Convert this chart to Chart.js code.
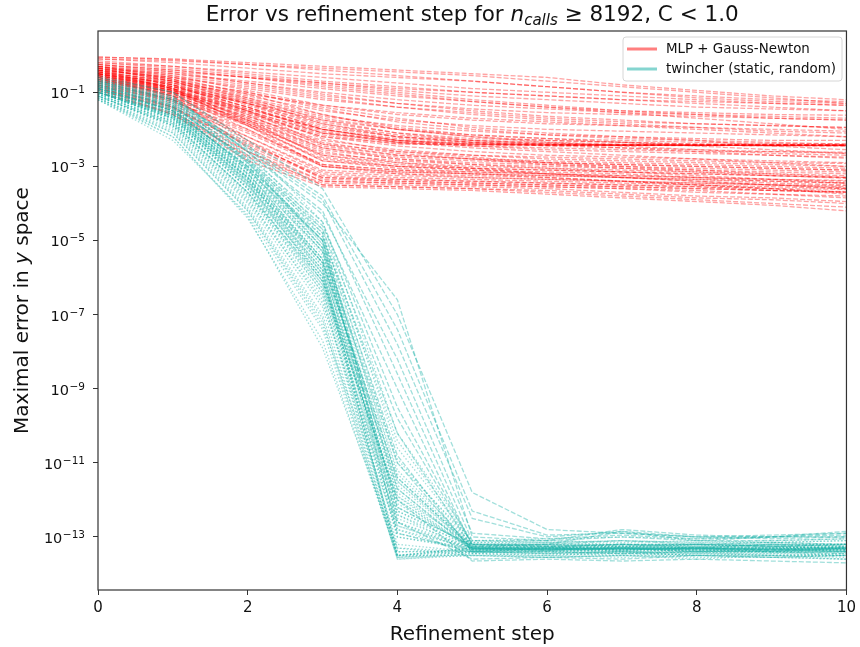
<!DOCTYPE html>
<html>
<head>
<meta charset="utf-8">
<script src="https://cdn.jsdelivr.net/npm/chart.js@4.4.1/dist/chart.umd.min.js"></script>
<style>
  html, body { margin: 0; padding: 0; background: #fff; }
</style>
</head>
<body>
<canvas id="chart" width="860" height="647"></canvas>
<script>
// Refinement steps (x axis)
const steps = [0, 1, 2, 3, 4, 5, 6, 7, 8, 9, 10];
const xTicks = [0, 2, 4, 6, 8, 10];
// y tick exponents (log10 of error)
const yTickExps = [-1, -3, -5, -7, -9, -11, -13];

// MLP + Gauss-Newton runs, log10(max error) per step
const mlpRuns = [
  [-0.05,-0.1,-0.2,-0.3,-0.4,-0.5,-0.6,-0.8,-0.95,-1.1,-1.2],
  [-0.1,-0.15,-0.25,-0.35,-0.45,-0.55,-0.7,-0.85,-1.0,-1.15,-1.3],
  [-0.2,-0.3,-0.45,-0.6,-0.75,-0.9,-1.0,-1.1,-1.2,-1.3,-1.35],
  [-0.3,-0.45,-0.6,-0.75,-0.9,-1.0,-1.1,-1.2,-1.3,-1.4,-1.5],
  [-0.25,-0.4,-0.6,-0.8,-1.0,-1.2,-1.35,-1.5,-1.6,-1.7,-1.75],
  [-0.35,-0.55,-0.8,-1.1,-1.3,-1.45,-1.55,-1.6,-1.65,-1.7,-1.75],
  [-0.4,-0.6,-0.9,-1.2,-1.4,-1.55,-1.7,-1.8,-1.85,-1.9,-1.95],
  [-0.3,-0.55,-0.95,-1.35,-1.6,-1.75,-1.85,-1.9,-1.95,-2.0,-2.05],
  [-0.45,-0.7,-1.1,-1.5,-1.75,-1.9,-2.0,-2.05,-2.1,-2.15,-2.2],
  [-0.5,-0.8,-1.2,-1.65,-1.9,-2.05,-2.15,-2.2,-2.25,-2.3,-2.3],
  [-0.35,-0.7,-1.25,-1.8,-2.1,-2.25,-2.3,-2.35,-2.4,-2.4,-2.43],
  [-0.4,-0.75,-1.35,-1.95,-2.2,-2.3,-2.35,-2.4,-2.42,-2.43,-2.43],
  [-0.55,-0.9,-1.45,-2.0,-2.25,-2.35,-2.4,-2.42,-2.43,-2.43,-2.44],
  [-0.3,-0.65,-1.2,-1.85,-2.2,-2.35,-2.4,-2.42,-2.43,-2.44,-2.44],
  [-0.6,-0.95,-1.5,-2.1,-2.3,-2.38,-2.42,-2.43,-2.43,-2.43,-2.43],
  [-0.45,-0.8,-1.3,-1.9,-2.2,-2.35,-2.45,-2.5,-2.55,-2.6,-2.65],
  [-0.5,-0.85,-1.4,-2.0,-2.3,-2.45,-2.55,-2.6,-2.65,-2.7,-2.75],
  [-0.65,-1.0,-1.6,-2.2,-2.45,-2.6,-2.7,-2.75,-2.8,-2.85,-2.9],
  [-0.7,-1.05,-1.65,-2.3,-2.55,-2.7,-2.8,-2.85,-2.9,-2.95,-3.0],
  [-0.4,-0.8,-1.5,-2.4,-2.7,-2.8,-2.85,-2.9,-2.95,-3.0,-3.05],
  [-0.55,-0.95,-1.7,-2.5,-2.75,-2.85,-2.9,-2.95,-3.0,-3.05,-3.1],
  [-0.75,-1.1,-1.75,-2.55,-2.8,-2.9,-2.95,-3.0,-3.05,-3.1,-3.15],
  [-0.6,-1.0,-1.8,-2.7,-2.9,-3.0,-3.05,-3.1,-3.15,-3.2,-3.25],
  [-0.8,-1.2,-1.9,-2.8,-3.0,-3.05,-3.1,-3.15,-3.2,-3.25,-3.3],
  [-0.5,-0.95,-1.85,-2.85,-3.0,-3.1,-3.15,-3.2,-3.3,-3.35,-3.4],
  [-0.85,-1.25,-2.0,-2.95,-3.1,-3.15,-3.2,-3.25,-3.3,-3.4,-3.45],
  [-0.65,-1.1,-2.0,-3.0,-3.15,-3.2,-3.25,-3.3,-3.35,-3.45,-3.5],
  [-0.9,-1.35,-2.2,-3.1,-3.2,-3.25,-3.3,-3.4,-3.45,-3.5,-3.55],
  [-0.7,-1.2,-2.3,-3.2,-3.3,-3.35,-3.4,-3.45,-3.5,-3.55,-3.6],
  [-0.95,-1.4,-2.45,-3.3,-3.35,-3.4,-3.45,-3.5,-3.55,-3.65,-3.7],
  [-0.6,-1.1,-2.5,-3.4,-3.45,-3.5,-3.55,-3.6,-3.7,-3.75,-3.8],
  [-1.0,-1.6,-2.7,-3.45,-3.5,-3.55,-3.6,-3.7,-3.8,-3.85,-3.95],
  [-0.8,-1.4,-2.6,-3.5,-3.55,-3.6,-3.7,-3.8,-3.9,-4.0,-4.1],
  [-0.9,-1.6,-2.85,-3.55,-3.6,-3.65,-3.75,-3.85,-3.95,-4.05,-4.2],
  [-0.35,-0.5,-0.7,-0.9,-1.1,-1.25,-1.4,-1.55,-1.7,-1.85,-2.0],
  [-0.2,-0.35,-0.55,-0.75,-0.95,-1.1,-1.2,-1.3,-1.4,-1.45,-1.5],
  [-0.5,-0.75,-1.05,-1.35,-1.55,-1.7,-1.8,-1.9,-2.0,-2.1,-2.2],
  [-0.45,-0.7,-1.0,-1.4,-1.7,-1.95,-2.1,-2.2,-2.3,-2.45,-2.55],
  [-0.6,-0.9,-1.3,-1.75,-2.0,-2.15,-2.25,-2.35,-2.45,-2.55,-2.65],
  [-0.3,-0.6,-1.05,-1.6,-2.0,-2.2,-2.3,-2.35,-2.4,-2.42,-2.43],
  [-0.7,-1.0,-1.5,-2.1,-2.35,-2.5,-2.6,-2.7,-2.8,-2.9,-3.0],
  [-0.55,-0.9,-1.5,-2.25,-2.6,-2.75,-2.9,-3.0,-3.1,-3.2,-3.3],
  [-0.75,-1.15,-1.8,-2.6,-2.9,-3.05,-3.2,-3.3,-3.4,-3.5,-3.6],
  [-0.4,-0.9,-1.9,-3.0,-3.2,-3.3,-3.35,-3.4,-3.5,-3.6,-3.7],
  [-0.15,-0.3,-0.5,-0.7,-0.85,-1.0,-1.1,-1.2,-1.25,-1.3,-1.35],
  [-0.65,-1.0,-1.55,-2.15,-2.4,-2.42,-2.43,-2.43,-2.43,-2.43,-2.43],
  [-0.5,-0.85,-1.4,-2.05,-2.35,-2.4,-2.42,-2.43,-2.43,-2.42,-2.43],
  [-0.85,-1.2,-1.85,-2.65,-2.85,-2.95,-3.05,-3.15,-3.25,-3.35,-3.45],
  [-0.25,-0.45,-0.75,-1.05,-1.3,-1.5,-1.65,-1.75,-1.85,-1.9,-1.95],
  [-0.4,-0.65,-1.0,-1.45,-1.8,-2.0,-2.15,-2.25,-2.3,-2.35,-2.4],
  [-0.55,-0.85,-1.3,-1.85,-2.15,-2.3,-2.38,-2.42,-2.43,-2.44,-2.45],
  [-0.35,-0.7,-1.3,-2.0,-2.3,-2.4,-2.42,-2.43,-2.43,-2.43,-2.43],
  [-0.6,-0.95,-1.55,-2.2,-2.38,-2.42,-2.43,-2.43,-2.44,-2.43,-2.43],
  [-0.45,-0.8,-1.4,-2.1,-2.35,-2.45,-2.5,-2.55,-2.6,-2.6,-2.62],
  [-0.7,-1.05,-1.7,-2.4,-2.6,-2.7,-2.75,-2.8,-2.85,-2.9,-2.92],
  [-0.5,-0.9,-1.6,-2.45,-2.7,-2.8,-2.9,-2.95,-3.0,-3.05,-3.1],
  [-0.8,-1.15,-1.85,-2.7,-2.95,-3.05,-3.1,-3.15,-3.2,-3.25,-3.3],
  [-0.65,-1.05,-1.9,-2.85,-3.05,-3.15,-3.2,-3.25,-3.3,-3.35,-3.38],
  [-0.9,-1.3,-2.1,-3.0,-3.15,-3.2,-3.25,-3.3,-3.35,-3.4,-3.45],
  [-0.75,-1.2,-2.2,-3.15,-3.25,-3.3,-3.35,-3.4,-3.45,-3.5,-3.52],
  [-0.95,-1.45,-2.4,-3.25,-3.35,-3.4,-3.45,-3.5,-3.55,-3.6,-3.62],
  [-0.55,-1.0,-2.3,-3.35,-3.4,-3.45,-3.5,-3.55,-3.6,-3.65,-3.68],
  [-1.0,-1.55,-2.6,-3.4,-3.45,-3.5,-3.55,-3.6,-3.65,-3.75,-3.85],
  [-0.85,-1.5,-2.75,-3.5,-3.55,-3.6,-3.65,-3.75,-3.85,-3.9,-4.0],
  [-0.3,-0.5,-0.75,-1.0,-1.2,-1.35,-1.45,-1.55,-1.6,-1.65,-1.7],
  [-0.1,-0.2,-0.35,-0.5,-0.6,-0.7,-0.85,-1.0,-1.1,-1.2,-1.25],
  [-0.05,-0.12,-0.25,-0.4,-0.55,-0.7,-0.85,-1.0,-1.15,-1.25,-1.3],
  [-0.4,-0.6,-0.85,-1.15,-1.4,-1.6,-1.75,-1.85,-1.95,-2.05,-2.1],
  [-0.5,-0.75,-1.15,-1.6,-1.95,-2.15,-2.25,-2.3,-2.35,-2.38,-2.4],
  [-0.65,-0.95,-1.45,-2.0,-2.3,-2.4,-2.43,-2.43,-2.43,-2.44,-2.44],
  [-0.35,-0.65,-1.15,-1.75,-2.1,-2.3,-2.4,-2.5,-2.6,-2.7,-2.78],
  [-0.6,-1.0,-1.65,-2.35,-2.65,-2.8,-2.95,-3.05,-3.15,-3.25,-3.32],
  [-0.7,-1.1,-1.75,-2.5,-2.8,-2.95,-3.0,-3.05,-3.1,-3.15,-3.2],
  [-0.45,-0.9,-1.75,-2.75,-3.0,-3.1,-3.2,-3.3,-3.4,-3.5,-3.58],
  [-0.8,-1.25,-2.05,-2.95,-3.1,-3.2,-3.3,-3.4,-3.5,-3.6,-3.75],
  [-0.9,-1.4,-2.35,-3.3,-3.4,-3.45,-3.5,-3.55,-3.6,-3.65,-3.7],
  [-0.25,-0.4,-0.6,-0.85,-1.05,-1.25,-1.4,-1.5,-1.55,-1.6,-1.62],
  [-0.55,-0.85,-1.25,-1.7,-2.0,-2.2,-2.35,-2.45,-2.55,-2.65,-2.7]
];

// twincher (static, random) runs drawn dotted, log10(max error) per step
const twincherDotted = [
  [-1.0,-1.7,-3.6,-6.0,-13.5,-13.3,-13.35,-13.3,-13.35,-13.3,-13.4],
  [-0.9,-1.5,-3.3,-5.6,-12.8,-13.3,-13.25,-13.3,-13.2,-13.25,-13.3],
  [-1.1,-1.9,-3.9,-6.5,-13.55,-13.4,-13.45,-13.4,-13.5,-13.45,-13.5],
  [-0.8,-1.4,-3.1,-5.3,-12.2,-13.25,-13.2,-13.25,-13.3,-13.2,-13.25],
  [-1.2,-2.1,-4.2,-7.2,-13.6,-13.45,-13.5,-13.4,-13.5,-13.55,-13.5],
  [-0.95,-1.6,-3.4,-5.8,-11.8,-13.3,-13.3,-13.35,-13.3,-13.3,-13.35],
  [-0.7,-1.2,-2.9,-5.0,-11.5,-13.2,-13.15,-13.2,-13.2,-13.15,-13.2],
  [-1.05,-1.8,-3.7,-6.2,-13.0,-13.35,-13.4,-13.35,-13.4,-13.4,-13.35],
  [-1.15,-2.2,-4.4,-7.7,-13.5,-13.5,-13.55,-13.5,-13.6,-13.5,-13.55],
  [-0.85,-1.45,-3.2,-5.5,-12.5,-13.3,-13.3,-13.25,-13.3,-13.35,-13.3],
  [-1.0,-1.75,-3.5,-5.9,-13.4,-13.35,-13.3,-13.35,-13.3,-13.4,-13.35],
  [-0.75,-1.35,-3.0,-5.2,-11.2,-13.2,-13.25,-13.2,-13.25,-13.2,-13.2],
  [-1.1,-1.95,-4.0,-6.8,-13.55,-13.45,-13.4,-13.45,-13.4,-13.5,-13.45],
  [-0.9,-1.55,-3.35,-5.7,-12.0,-13.3,-13.35,-13.3,-13.35,-13.3,-13.3],
  [-0.6,-1.1,-2.7,-4.8,-11.0,-13.1,-13.15,-13.1,-13.15,-13.1,-13.05],
  [-1.0,-1.65,-3.45,-6.1,-12.7,-13.35,-13.3,-13.3,-13.25,-13.3,-13.35],
  [-1.15,-2.0,-4.1,-7.0,-13.5,-13.4,-13.45,-13.5,-13.45,-13.5,-13.5],
  [-0.8,-1.4,-3.1,-5.4,-11.6,-13.25,-13.3,-13.25,-13.2,-13.25,-13.3],
  [-0.95,-1.6,-3.4,-5.9,-13.0,-13.3,-13.35,-13.3,-13.4,-13.35,-13.3],
  [-1.05,-1.85,-3.8,-6.4,-13.4,-13.4,-13.35,-13.4,-13.35,-13.4,-13.45],
  [-0.7,-1.25,-2.8,-5.1,-12.3,-13.2,-13.2,-13.25,-13.2,-13.2,-13.25],
  [-1.2,-2.3,-4.3,-7.4,-13.55,-13.5,-13.5,-13.55,-13.5,-13.5,-13.6],
  [-0.85,-1.5,-3.25,-5.6,-12.6,-13.3,-13.3,-13.3,-13.35,-13.3,-13.3],
  [-1.0,-1.7,-3.55,-6.0,-12.9,-13.35,-13.35,-13.4,-13.35,-13.35,-13.4],
  [-0.9,-1.5,-3.3,-5.7,-13.5,-13.3,-13.3,-13.35,-13.3,-13.35,-13.3],
  [-0.65,-1.15,-2.6,-4.7,-10.6,-13.15,-13.1,-13.15,-13.1,-13.15,-13.1],
  [-1.1,-1.9,-3.95,-6.6,-13.2,-13.4,-13.45,-13.4,-13.45,-13.4,-13.5],
  [-0.8,-1.4,-3.05,-5.3,-12.4,-13.25,-13.25,-13.2,-13.25,-13.3,-13.25],
  [-0.95,-1.65,-3.5,-5.8,-13.5,-13.35,-13.3,-13.35,-13.3,-13.35,-13.35],
  [-1.05,-1.8,-3.75,-6.3,-13.3,-13.4,-13.4,-13.45,-13.4,-13.4,-13.4],
  [-0.75,-1.3,-2.95,-5.0,-11.9,-13.2,-13.25,-13.2,-13.2,-13.25,-13.2],
  [-0.55,-1.0,-2.4,-4.5,-10.2,-13.1,-13.05,-13.0,-13.05,-13.0,-13.0],
  [-1.15,-2.05,-4.15,-7.1,-13.6,-13.5,-13.55,-13.5,-13.5,-13.55,-13.6],
  [-0.9,-1.55,-3.3,-5.9,-12.3,-13.3,-13.3,-13.3,-13.3,-13.35,-13.3],
  [-1.0,-1.7,-3.6,-6.3,-11.9,-13.35,-13.4,-13.35,-13.35,-13.4,-13.4],
  [-0.8,-1.4,-3.15,-5.6,-11.4,-13.25,-13.25,-13.3,-13.25,-13.25,-13.3],
  [-1.1,-1.9,-3.85,-6.7,-12.6,-13.4,-13.45,-13.4,-13.45,-13.45,-13.4],
  [-0.7,-1.25,-2.85,-5.2,-10.9,-13.2,-13.2,-13.2,-13.25,-13.2,-13.2],
  [-0.95,-1.6,-3.45,-6.0,-12.1,-13.3,-13.35,-13.3,-13.35,-13.3,-13.35],
  [-1.05,-1.8,-3.7,-6.4,-12.4,-13.4,-13.35,-13.4,-13.4,-13.35,-13.4],
  [-0.85,-1.45,-3.2,-5.5,-11.7,-13.3,-13.3,-13.25,-13.3,-13.3,-13.25],
  [-1.15,-2.1,-4.2,-7.3,-12.8,-13.45,-13.5,-13.45,-13.5,-13.5,-13.5],
  [-0.75,-1.3,-2.9,-5.1,-11.3,-13.25,-13.2,-13.25,-13.2,-13.25,-13.2],
  [-1.0,-1.75,-3.6,-6.2,-12.0,-13.35,-13.3,-13.35,-13.3,-13.35,-13.35],
  [-0.9,-1.5,-3.35,-5.8,-12.7,-13.3,-13.35,-13.3,-13.3,-13.3,-13.3],
  [-1.2,-2.2,-4.35,-7.9,-13.3,-13.5,-13.55,-13.5,-13.55,-13.55,-13.6],
  [-0.65,-1.2,-2.75,-4.9,-10.4,-13.15,-13.15,-13.1,-13.15,-13.15,-13.1],
  [-0.95,-1.65,-3.5,-6.1,-11.5,-13.3,-13.3,-13.35,-13.3,-13.3,-13.3]
];

// twincher runs drawn dashed (the slower ones)
const twincherDashed = [
  [-0.6,-1.0,-2.3,-3.6,-7.0,-11.8,-12.8,-12.9,-13.0,-13.0,-12.9],
  [-0.7,-1.15,-2.5,-3.9,-7.8,-12.5,-13.0,-12.85,-13.0,-13.05,-13.0],
  [-0.65,-1.1,-2.6,-4.2,-8.6,-13.1,-13.1,-13.0,-13.1,-13.1,-13.05],
  [-0.8,-1.3,-2.7,-4.5,-9.5,-13.2,-13.2,-13.1,-13.2,-13.15,-13.2],
  [-0.9,-1.5,-3.0,-4.9,-10.2,-13.3,-13.25,-13.3,-13.3,-13.2,-13.25],
  [-0.75,-1.25,-2.55,-4.0,-6.6,-13.0,-13.1,-12.8,-12.95,-13.0,-12.95],
  [-0.85,-1.4,-2.8,-4.6,-9.0,-13.25,-13.3,-13.2,-13.3,-13.25,-13.3],
  [-1.0,-1.6,-3.2,-5.3,-11.0,-13.35,-13.35,-13.3,-13.35,-13.4,-13.3],
  [-0.7,-1.2,-2.45,-3.8,-7.4,-12.3,-12.95,-12.9,-13.0,-12.95,-12.9],
  [-0.95,-1.55,-3.1,-5.0,-10.8,-13.4,-13.3,-13.35,-13.3,-13.35,-13.3],
  [-1.1,-1.85,-3.7,-6.1,-12.0,-13.65,-13.6,-13.65,-13.6,-13.65,-13.7],
  [-0.8,-1.35,-2.9,-4.8,-12.6,-13.6,-13.55,-13.6,-13.5,-13.55,-13.5],
  [-0.9,-1.45,-3.05,-5.2,-12.2,-13.25,-13.2,-12.85,-13.1,-13.0,-12.85],
  [-1.0,-1.7,-3.4,-5.6,-11.4,-13.3,-13.35,-13.3,-13.3,-13.35,-13.4],
  [-0.75,-1.2,-2.6,-4.3,-8.2,-12.9,-13.05,-12.95,-13.05,-13.0,-13.0],
  [-0.85,-1.35,-2.85,-4.7,-9.8,-13.2,-13.25,-13.2,-13.2,-13.25,-13.2],
  [-1.0,-1.65,-3.3,-5.5,-11.7,-13.35,-13.35,-13.3,-13.4,-13.35,-13.35],
  [-0.9,-1.5,-3.0,-5.0,-12.9,-13.4,-13.4,-13.45,-13.4,-13.4,-13.45]
];

const RED = "rgba(255, 0, 0, 0.36)";
const TEAL = "rgba(32, 178, 170, 0.42)";
const FONT = "'DejaVu Sans', sans-serif";

function toPoints(run) {
  return steps.map((s, i) => ({ x: s, y: Math.pow(10, run[i]) }));
}

const datasets = [];
twincherDotted.forEach((run) => {
  datasets.push({ data: toPoints(run), borderColor: TEAL, borderWidth: 1.3, borderDash: [1.5, 2] });
});
twincherDashed.forEach((run) => {
  datasets.push({ data: toPoints(run), borderColor: TEAL, borderWidth: 1.3, borderDash: [5, 2] });
});
mlpRuns.forEach((run) => {
  datasets.push({ data: toPoints(run), borderColor: RED, borderWidth: 1.3, borderDash: [5, 2] });
});

// frame, title, axis labels, y tick labels and legend in matplotlib style
const decorations = {
  id: "decorations",
  afterDraw(chart) {
    const ctx = chart.ctx;
    const a = chart.chartArea;
    ctx.save();
    ctx.strokeStyle = "#333";
    ctx.lineWidth = 1.2;
    ctx.strokeRect(a.left, a.top, a.right - a.left, a.bottom - a.top);

    // y tick labels as 10 with raised exponent
    ctx.fillStyle = "#111";
    ctx.textBaseline = "alphabetic";
    ctx.textAlign = "left";
    const yScale = chart.scales.y;
    yTickExps.forEach((e) => {
      const py = yScale.getPixelForValue(Math.pow(10, e));
      const expText = "\u2212" + String(-e);
      ctx.font = "10.5px " + FONT;
      const ew = ctx.measureText(expText).width;
      ctx.font = "14.5px " + FONT;
      const bw = ctx.measureText("10").width;
      const right = 85;
      ctx.fillText("10", right - ew - bw - 0.5, py + 6);
      ctx.font = "10.5px " + FONT;
      ctx.fillText(expText, right - ew, py + 1);
    });

    // title with math part
    const parts = [
      { t: "Error vs refinement step for ", f: "21.5px " + FONT, dy: 0 },
      { t: "n", f: "italic 21.5px " + FONT, dy: 0 },
      { t: "calls", f: "italic 15px " + FONT, dy: 4 },
      { t: " \u2265 8192, C < 1.0", f: "21.5px " + FONT, dy: 0 }
    ];
    let w = 0;
    parts.forEach((p) => { ctx.font = p.f; w += ctx.measureText(p.t).width; });
    let x = (a.left + a.right) / 2 - w / 2;
    parts.forEach((p) => {
      ctx.font = p.f;
      ctx.fillText(p.t, x, 21 + p.dy);
      x += ctx.measureText(p.t).width;
    });

    // x label
    ctx.font = "20px " + FONT;
    ctx.textAlign = "center";
    ctx.fillText("Refinement step", (a.left + a.right) / 2, 640);

    // y label (rotated, italic y)
    ctx.save();
    ctx.translate(28, (a.top + a.bottom) / 2);
    ctx.rotate(-Math.PI / 2);
    const yl = [
      { t: "Maximal error in ", f: "20px " + FONT },
      { t: "y", f: "italic 20px " + FONT },
      { t: " space", f: "20px " + FONT }
    ];
    let yw = 0;
    yl.forEach((p) => { ctx.font = p.f; yw += ctx.measureText(p.t).width; });
    ctx.textAlign = "left";
    let yx = -yw / 2;
    yl.forEach((p) => {
      ctx.font = p.f;
      ctx.fillText(p.t, yx, 0);
      yx += ctx.measureText(p.t).width;
    });
    ctx.restore();

    // legend box
    const lx = 623, ly = 37, lw = 219, lh = 44;
    ctx.beginPath();
    ctx.roundRect(lx, ly, lw, lh, 3);
    ctx.fillStyle = "rgba(255,255,255,0.8)";
    ctx.fill();
    ctx.strokeStyle = "#d6d6d6";
    ctx.lineWidth = 1;
    ctx.stroke();
    const entries = [
      { label: "MLP + Gauss-Newton", color: "rgba(255,0,0,0.5)", y: 49 },
      { label: "twincher (static, random)", color: "rgba(32,178,170,0.55)", y: 69 }
    ];
    ctx.textAlign = "left";
    ctx.textBaseline = "middle";
    ctx.font = "13.4px " + FONT;
    entries.forEach((e) => {
      ctx.strokeStyle = e.color;
      ctx.lineWidth = 3;
      ctx.beginPath();
      ctx.moveTo(627, e.y);
      ctx.lineTo(657, e.y);
      ctx.stroke();
      ctx.fillStyle = "#111";
      ctx.fillText(e.label, 666, e.y + 1);
    });
    ctx.restore();
  }
};

new Chart(document.getElementById("chart"), {
  type: "line",
  data: { datasets: datasets },
  options: {
    responsive: false,
    animation: false,
    devicePixelRatio: 1,
    layout: { padding: { top: 31, right: 12, left: 0, bottom: 0 } },
    elements: { point: { radius: 0 }, line: { tension: 0, fill: false } },
    plugins: { legend: { display: false }, tooltip: { enabled: false }, title: { display: false } },
    scales: {
      x: {
        type: "linear",
        min: 0,
        max: 10,
        afterFit: (scale) => { scale.height = 57; },
        afterBuildTicks: (scale) => { scale.ticks = xTicks.map((v) => ({ value: v })); },
        grid: { drawOnChartArea: false, drawTicks: true, tickLength: 5, color: "#333" },
        border: { display: false },
        ticks: { color: "#111", font: { family: FONT, size: 15 }, padding: 4, maxRotation: 0 }
      },
      y: {
        type: "logarithmic",
        min: 3.7e-15,
        max: 4.5,
        afterFit: (scale) => { scale.width = 98; },
        afterBuildTicks: (scale) => { scale.ticks = yTickExps.map((e) => ({ value: Math.pow(10, e) })); },
        grid: { drawOnChartArea: false, drawTicks: true, tickLength: 5, color: "#333" },
        border: { display: false },
        // labels are drawn by the decorations plugin (raised exponents)
        ticks: { color: "rgba(0,0,0,0)", font: { family: FONT, size: 15 }, padding: 8 }
      }
    }
  },
  plugins: [decorations]
});
</script>
</body>
</html>
